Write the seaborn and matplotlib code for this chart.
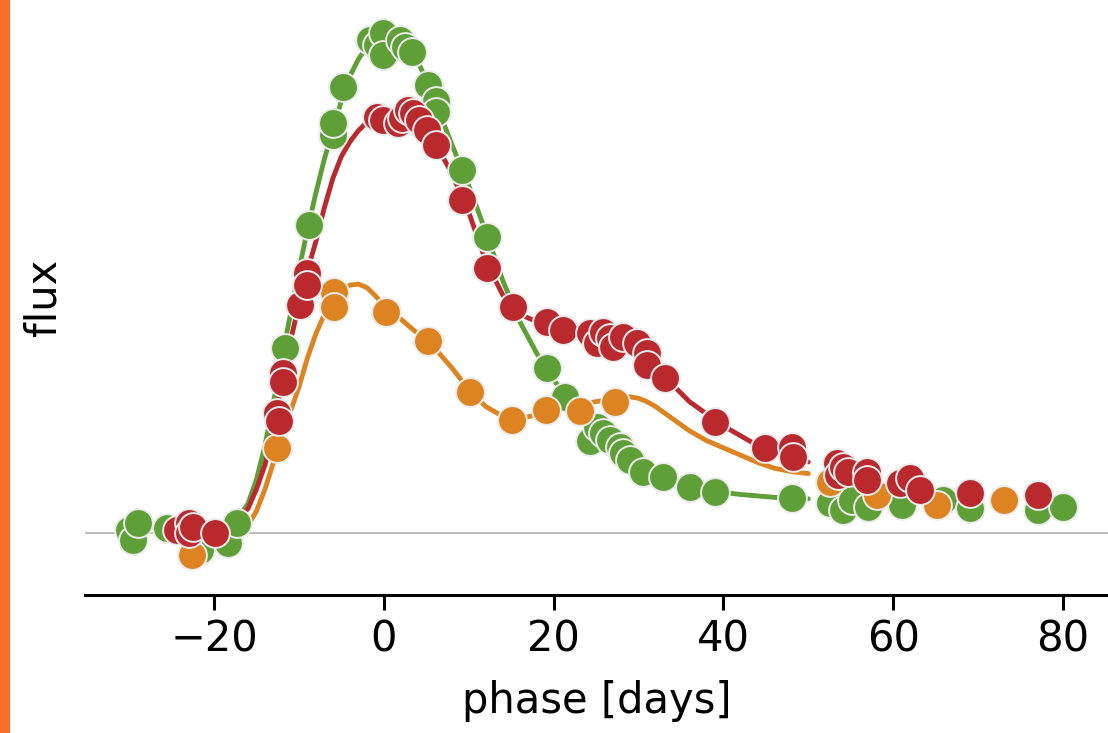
import matplotlib
matplotlib.use("Agg")
import matplotlib.pyplot as plt
import matplotlib.patches as mpatches
import numpy as np
import pandas as pd
import seaborn as sns

# ---- observed photometry (phase in days, flux in arbitrary units) ----
green_phase = [-30.0, -29.5, -29.0, -25.5, -21.7, -18.4, -17.3, -11.7, -8.8, -6.0, -6.0,
               -4.8, -1.6, -0.8, -0.1, -0.1, 1.9, 2.5, 3.3, 5.2, 6.2, 6.2, 9.2, 12.1,
               19.2, 21.3, 24.3, 25.1, 25.8, 26.6, 27.8, 28.2, 29.0, 30.5, 32.9, 36.1,
               39.0, 48.1, 52.6, 54.1, 55.2, 57.0, 61.0, 65.9, 69.1, 77.0, 80.0]
green_flux = [0.5, -1.5, 2.0, 1.0, -3.5, -2.0, 2.0, 38.0, 63.4, 82.0, 84.4,
              91.8, 101.4, 100.4, 102.9, 98.4, 101.4, 100.0, 99.0, 92.2, 89.0, 86.6, 74.7, 61.0,
              34.0, 28.0, 19.0, 21.8, 20.6, 19.1, 17.7, 16.5, 15.0, 12.6, 11.5, 9.5,
              8.4, 7.2, 6.2, 4.7, 6.8, 5.3, 5.8, 6.8, 5.1, 4.7, 5.3]

orange_phase = [-22.6, -12.6, -5.9, -5.9, 0.2, 5.2, 10.1, 15.1, 19.1, 23.1, 27.2,
                52.6, 58.1, 65.2, 73.0]
orange_flux = [-4.5, 17.5, 49.6, 46.5, 45.5, 39.5, 29.0, 23.3, 25.3, 25.0, 27.0,
               10.5, 7.8, 5.8, 6.8]

red_phase = [-24.4, -22.9, -22.9, -22.5, -19.9, -12.6, -12.4, -11.9, -11.9, -9.9, -9.0,
             -9.0, -0.8, -0.1, 1.7, 2.1, 2.8, 3.4, 4.2, 5.1, 6.2, 9.2, 12.1, 15.2,
             19.2, 21.1, 24.3, 25.1, 25.8, 26.6, 27.0, 28.2, 29.8, 31.0, 31.0, 33.1,
             39.0, 44.9, 48.1, 48.2, 53.4, 53.5, 54.1, 54.7, 56.9, 56.9, 60.8, 62.0,
             63.2, 69.1, 77.0]
red_flux = [0.6, 2.0, 0.0, 1.2, 0.0, 24.7, 23.0, 33.0, 31.0, 47.0, 53.5,
            51.0, 85.6, 85.0, 84.4, 85.4, 87.0, 86.4, 85.0, 83.0, 79.8, 68.5, 54.5, 46.5,
            43.5, 41.8, 41.2, 39.0, 41.4, 40.1, 38.3, 40.3, 39.0, 37.0, 34.6, 31.9,
            22.8, 17.5, 17.7, 15.6, 14.4, 11.9, 13.6, 12.6, 12.6, 10.9, 10.3, 11.3,
            8.8, 8.2, 7.8]

# ---- fitted model curves, sampled on a phase grid ----
green_model_phase = [-20, -18, -17, -16, -15, -14, -13, -12, -11, -10, -9, -8, -7, -6, -5,
                     -4, -3, -2, -1, 0, 1, 2, 3, 4, 5, 6, 8, 10, 12, 14, 16, 18, 20, 22,
                     24, 26, 28, 30, 32, 34, 36, 38, 40, 42, 44, 46, 48, 50]
green_model = [0.0, 2.0, 3.5, 6.0, 11.0, 18.0, 27.0, 36.0, 45.0, 54.0, 62.5, 70.0, 77.0,
               83.0, 89.0, 94.0, 97.5, 100.0, 101.5, 102.0, 102.2, 101.5, 99.8, 97.0,
               93.3, 89.0, 80.0, 71.5, 62.0, 52.0, 43.5, 37.0, 31.5, 27.0, 23.0, 19.5,
               16.5, 13.8, 11.9, 10.6, 9.6, 8.9, 8.3, 7.9, 7.6, 7.3, 7.1, 7.0]

red_model_phase = [-20, -18, -17, -16, -15, -14, -13, -12, -11, -10, -9, -8, -7, -6, -5,
                   -4, -3, -2, -1, 0, 1, 2, 3, 4, 5, 6, 8, 10, 12, 14, 16, 18, 20, 22,
                   24, 26, 28, 30, 32, 34, 36, 38, 40, 42, 44, 46, 48, 50]
red_model = [0.5, 2.0, 3.2, 5.0, 9.0, 14.0, 22.0, 31.0, 39.5, 47.0, 54.0, 60.0, 67.0,
             73.0, 77.5, 80.5, 82.8, 84.5, 85.5, 86.0, 86.4, 86.5, 86.0, 85.0, 83.2,
             80.5, 74.0, 66.0, 56.0, 49.0, 45.0, 43.5, 42.8, 42.0, 41.5, 40.5,
             39.5, 37.5, 34.0, 30.5, 27.0, 24.5, 22.0, 20.0, 18.0, 16.5, 15.3, 14.6]

orange_model_phase = [-20, -18, -16, -15, -14, -13, -12, -11, -10, -9, -8, -7, -6, -5,
                      -4, -3, -2, -1, 0, 2, 4, 6, 8, 10, 12, 14, 16, 18, 20, 22, 24, 26,
                      27, 28, 29, 30, 31, 32, 34, 36, 38, 40, 42, 44, 46, 48, 50]
orange_model = [-1.0, 0.0, 1.5, 4.5, 9.0, 14.5, 20.0, 25.0, 30.0, 36.0, 41.0, 45.0,
                48.0, 50.0, 51.0, 51.2, 50.5, 48.8, 46.8, 44.0, 41.0, 38.0, 34.0, 29.5,
                26.0, 24.0, 23.5, 24.3, 25.3, 26.0, 26.7, 27.3, 27.7, 28.0, 28.0, 27.7,
                27.0, 26.0, 23.5, 21.0, 19.0, 17.5, 16.0, 14.5, 13.3, 12.6, 12.2]

band_colors = {"g": "#5f9f37", "o": "#dd8321", "r": "#b9292d"}

obs = pd.concat([
    pd.DataFrame({"phase": green_phase, "flux": green_flux, "band": "g"}),
    pd.DataFrame({"phase": orange_phase, "flux": orange_flux, "band": "o"}),
    pd.DataFrame({"phase": red_phase, "flux": red_flux, "band": "r"}),
], ignore_index=True)

model = pd.concat([
    pd.DataFrame({"phase": green_model_phase, "flux": green_model, "band": "g"}),
    pd.DataFrame({"phase": orange_model_phase, "flux": orange_model, "band": "o"}),
    pd.DataFrame({"phase": red_model_phase, "flux": red_model, "band": "r"}),
], ignore_index=True)

sns.set_theme(style="ticks")
plt.rcParams["font.family"] = ["DejaVu Sans"]
plt.rcParams["text.color"] = "black"
plt.rcParams["axes.labelcolor"] = "black"
plt.rcParams["xtick.color"] = "black"

fig = plt.figure(figsize=(11.08, 7.33), dpi=100)
ax = fig.add_axes([85 / 1108, 138 / 733, 1 - 85 / 1108, 1 - 138 / 733])

ax.axhline(0, color="#b8b8b8", lw=1.3, zorder=1)

sns.lineplot(data=model, x="phase", y="flux", hue="band", palette=band_colors,
             lw=3.5, legend=False, ax=ax, zorder=2, solid_capstyle="round",
             solid_joinstyle="round")

for band in ["g", "o", "r"]:
    sns.scatterplot(data=obs[obs["band"] == band], x="phase", y="flux",
                    color=band_colors[band], s=430, edgecolor="#ececec",
                    linewidth=1.4, legend=False, ax=ax, zorder=3)

ax.set_xlim(-35.2, 85.3)
ax.set_ylim(-12.8, 109.7)
ax.set_xticks([-20, 0, 20, 40, 60, 80])
ax.set_yticks([])
ax.set_xlabel("phase [days]", fontsize=30, labelpad=14, color="black")
ax.set_ylabel("flux", fontsize=30, labelpad=15, color="black")
ax.tick_params(axis="x", labelsize=30, length=11, width=2.2, pad=6,
               color="black", labelcolor="black")
sns.despine(ax=ax, left=True)
ax.spines["bottom"].set_linewidth(2.2)
ax.spines["bottom"].set_color("black")

# accent bar along the left edge
fig.patches.append(mpatches.Rectangle((0, 0), 10 / 1108, 1, transform=fig.transFigure,
                                      facecolor="#f96e2a", edgecolor="none"))

fig.savefig("out.png", dpi=100)
